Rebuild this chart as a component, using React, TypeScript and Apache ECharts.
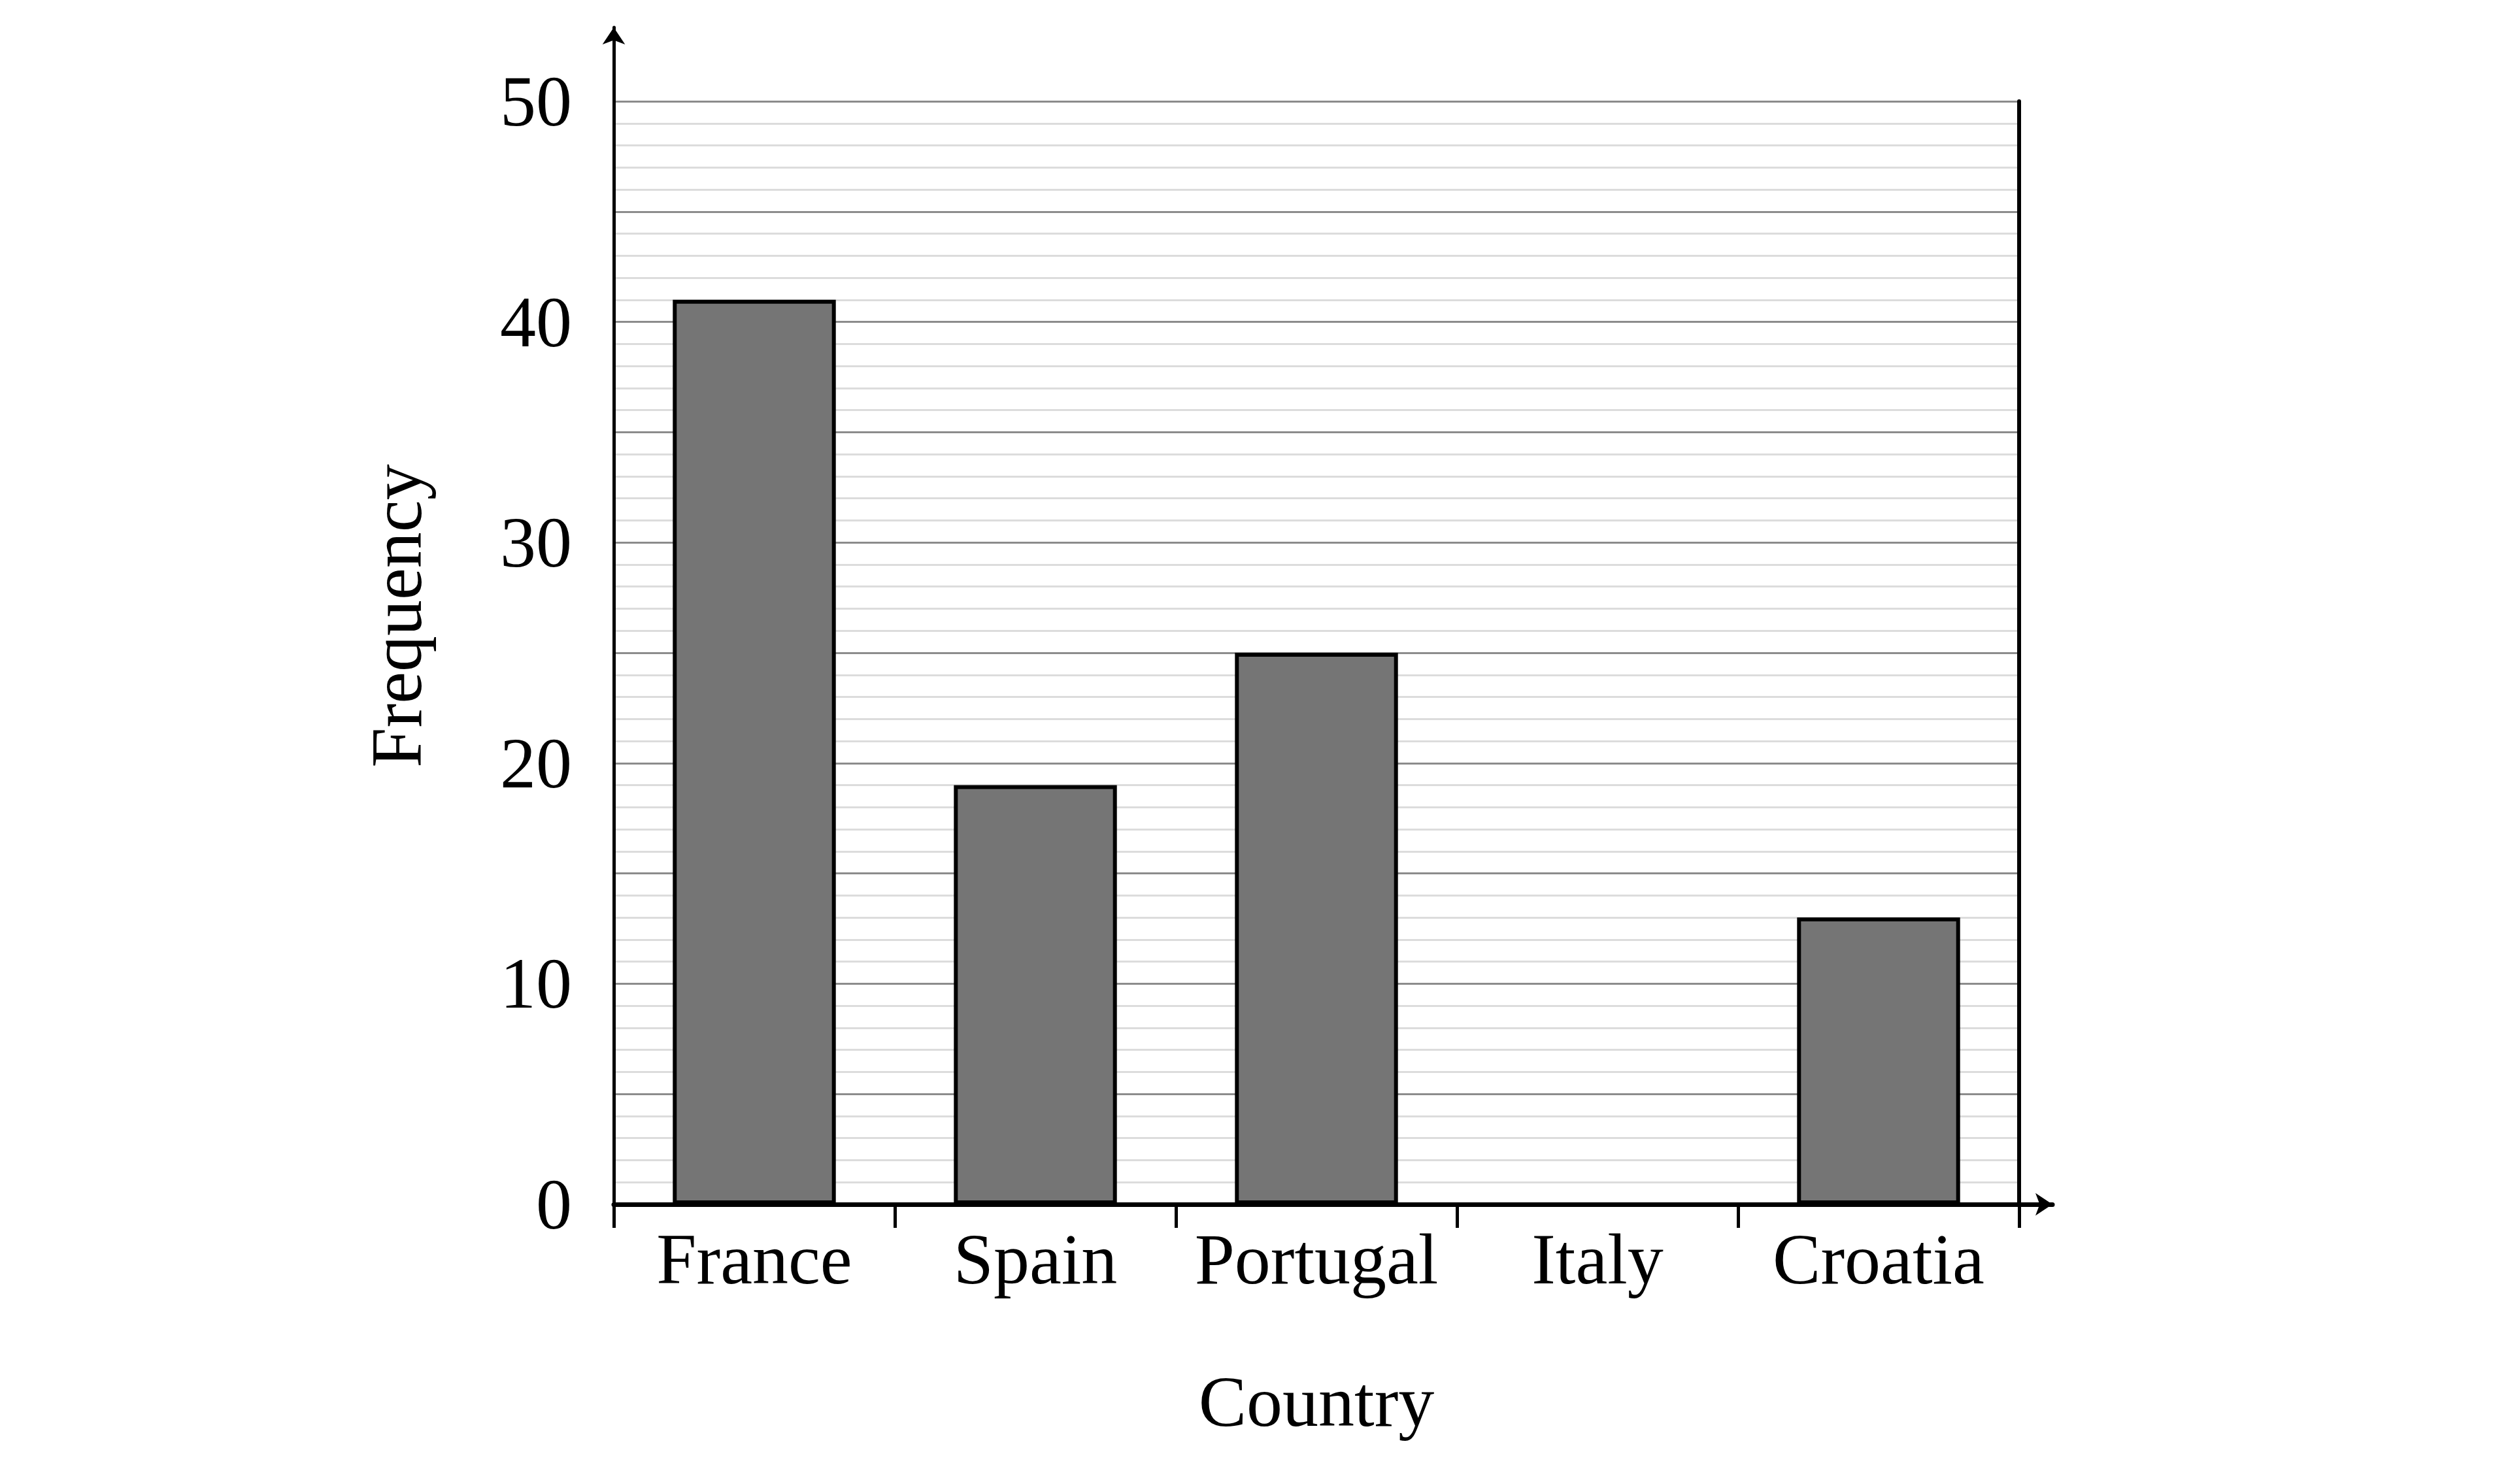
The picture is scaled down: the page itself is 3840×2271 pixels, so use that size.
import React, { useEffect, useRef } from "react";
import * as echarts from "echarts";

const categories = ["France", "Spain", "Portugal", "Italy", "Croatia"];
const frequencies = [41, 19, 25, 0, 13];
const yMin = 0;
const yMax = 50;
const yMajorStep = 5;
const yLabelStep = 10;

const FONT = "'Liberation Serif', 'Times New Roman', serif";

export default function App() {
  const ref = useRef<HTMLDivElement>(null);
  useEffect(() => {
    if (!ref.current) return;
    const chart = echarts.init(ref.current, undefined, { renderer: "svg" });
    const txt = { color: "#000", fontSize: 110, fontFamily: FONT };
    chart.setOption({
      animation: false,
      backgroundColor: "#ffffff",
      textStyle: { fontFamily: FONT },
      grid: [
        { left: 939, right: 751, top: 155, bottom: 428 },
        { left: 939, right: 700, top: 42, bottom: 428 },
      ],
      xAxis: [
        {
          type: "category",
          gridIndex: 0,
          data: categories,
          boundaryGap: true,
          axisLine: { show: false },
          axisTick: {
            show: true,
            interval: 0,
            alignWithLabel: false,
            length: 36,
            lineStyle: { color: "#000", width: 5 },
          },
          axisLabel: { interval: 0, margin: 29, ...txt },
          splitLine: { show: false },
          name: "Country",
          nameLocation: "middle",
          nameGap: 247,
          nameTextStyle: txt,
        },
        {
          type: "value",
          gridIndex: 1,
          min: 0,
          max: 1,
          axisLine: {
            show: true,
            symbol: ["none", "arrow"],
            symbolSize: [26, 26],
            lineStyle: { color: "#000", width: 7 },
          },
          axisTick: { show: false },
          axisLabel: { show: false },
          splitLine: { show: false },
        },
      ],
      yAxis: [
        {
          type: "value",
          gridIndex: 0,
          min: yMin,
          max: yMax,
          interval: yMajorStep,
          axisLine: { show: false },
          axisTick: { show: false },
          axisLabel: {
            margin: 64,
            ...txt,
            formatter: (v: number) => (v % yLabelStep === 0 ? String(v) : ""),
          },
          splitLine: { show: true, lineStyle: { color: "#8c8c8c", width: 3 } },
          minorTick: { show: false, splitNumber: 5 },
          minorSplitLine: { show: true, lineStyle: { color: "#dcdcdc", width: 3 } },
        },
        {
          type: "value",
          gridIndex: 0,
          position: "right",
          min: yMin,
          max: yMax,
          interval: yMajorStep,
          axisLine: { show: true, lineStyle: { color: "#000", width: 6 } },
          axisTick: { show: false },
          axisLabel: { show: false },
          splitLine: { show: false },
        },
        {
          type: "value",
          gridIndex: 1,
          min: 0,
          max: 1,
          axisLine: {
            show: true,
            symbol: ["none", "arrow"],
            symbolSize: [26, 26],
            lineStyle: { color: "#000", width: 5 },
          },
          axisTick: { show: false },
          axisLabel: { show: false },
          splitLine: { show: false },
          name: "Frequency",
          nameLocation: "middle",
          nameRotate: 90,
          nameGap: 277,
          nameTextStyle: txt,
        },
      ],
      series: [
        {
          type: "bar",
          xAxisIndex: 0,
          yAxisIndex: 0,
          data: frequencies,
          barWidth: "58%",
          itemStyle: { color: "#757575", borderColor: "#000", borderWidth: 6 },
        },
      ],
    });
    return () => chart.dispose();
  }, []);
  return (
    <div
      ref={ref}
      style={{ position: "fixed", left: 0, top: 0, width: 3840, height: 2271 }}
    />
  );
}
